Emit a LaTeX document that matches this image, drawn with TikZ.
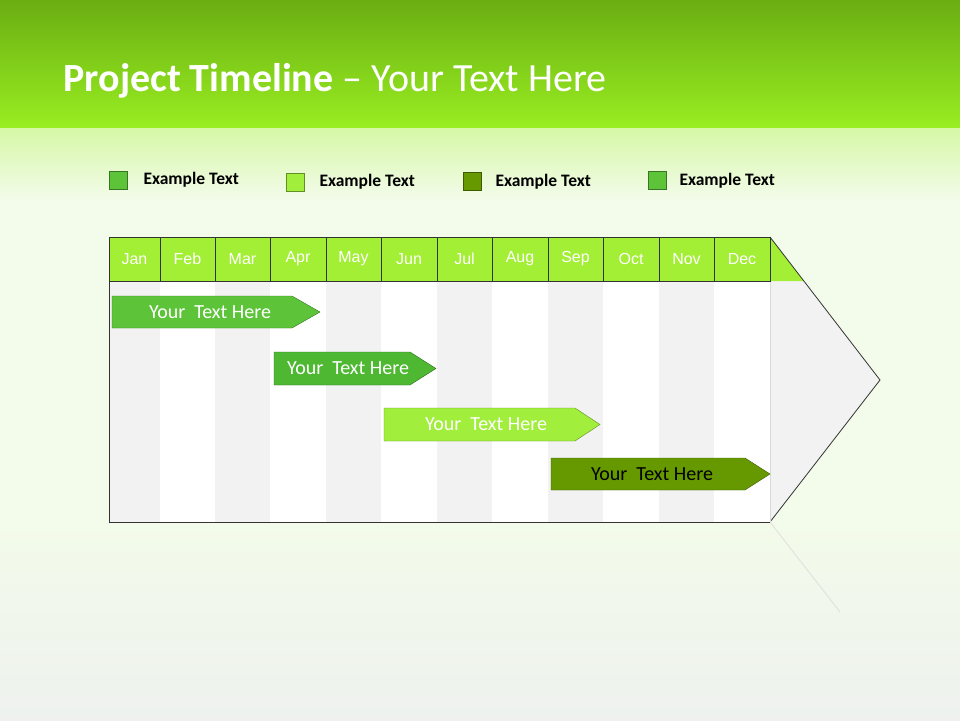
\documentclass[tikz,border=0pt]{standalone}
\usepackage{fontspec}
\setmainfont{Carlito}
\newfontfamily\arialf{Liberation Sans}
\begin{document}
\begin{tikzpicture}[x=1pt,y=-1pt,
  hdr/.style={fill=hgreen,draw=black!80,line width=0.8pt},
  mon/.style={text=white,font=\arialf\fontsize{16}{18}\selectfont},
  leg/.style={font=\bfseries\fontsize{17.5}{20}\selectfont,anchor=west},
  bartext/.style={font=\fontsize{20}{23}\selectfont}]
\definecolor{hgreen}{HTML}{A3EF35}
\definecolor{cA}{HTML}{5DC43A}
\definecolor{cB}{HTML}{A2EE3C}
\definecolor{cC}{HTML}{669900}
\definecolor{cD}{HTML}{4EB833}
\definecolor{top}{HTML}{6AAE12}
\definecolor{mid}{HTML}{99EE22}
\definecolor{bg}{HTML}{F3FBEA}
\useasboundingbox (0,0) rectangle (960,720);
\fill[bg] (0,0) rectangle (960,720);
\shade[top color=top,bottom color=mid] (0,0) rectangle (960,128);
\shade[top color=mid!40!white,bottom color=bg] (0,128) rectangle (960,200);
\shade[top color=bg,bottom color=green!10!gray!12] (0,520) rectangle (960,720);
\node[anchor=west,text=white,font=\fontsize{40}{46}\selectfont] (title) at (60,81) {\textbf{Project Timeline} -- Your Text Here};
% legend
\node[fill=cA,draw=cA!60!black,minimum size=18pt,inner sep=0] (l1) at (118.5,180) {};
\node[leg] (t1) at (140,180) {Example Text};
\node[fill=cB,draw=cB!60!black,minimum size=18pt,inner sep=0] (l2) at (295.5,182) {};
\node[leg] (t2) at (316,182) {Example Text};
\node[fill=cC,draw=cC!60!black,minimum size=18pt,inner sep=0] (l3) at (472,181) {};
\node[leg] (t3) at (492,182) {Example Text};
\node[fill=cA,draw=cA!60!black,minimum size=18pt,inner sep=0] (l4) at (657.5,180) {};
\node[leg] (t4) at (676,181) {Example Text};
% arrow background
\fill[gray!10] (770,237) -- (880,380) -- (770,522) -- cycle;
\fill[hgreen] (770,237) -- (803.8,281) -- (770,281) -- cycle;
\draw[black!80,line width=0.8pt] (770,237) -- (880,380) -- (770,522);
\draw[gray!25,line width=0.8pt] (770,522) -- (840,612);
\foreach \a/\b/\m [count=\i] in {109/160/Jan,160/215/Feb,215/270/Mar,270/326/Apr,326/381/May,381/437/Jun,437/492/Jul,492/548/Aug,548/603/Sep,603/659/Oct,659/714/Nov,714/770/Dec}{
  \pgfmathtruncatemacro{\odd}{mod(\i,2)}
  \ifnum\odd=1 \fill[gray!10] (\a,281) rectangle (\b,522); \else \fill[white] (\a,281) rectangle (\b,522);\fi
  \draw[gray!30,line width=0.8pt] (\b,281) -- (\b,522);
  \draw[hdr] (\a,237) rectangle (\b,281);
  \node[mon] (m\i) at ({(\a+\b)/2},259) {\m};
}
\draw[black!80,line width=0.8pt] (109,237) -- (109,522) -- (770,522);
% bars
\draw[fill=cA,draw=cA!60!black] (112,296) -- (292,296) -- (320,312) -- (292,328) -- (112,328) -- cycle;
\node[bartext,text=white] (b1) at (210,312) {Your\ \ Text Here};
\draw[fill=cD,draw=cD!60!black] (274,352) -- (410,352) -- (436,368.5) -- (410,385) -- (274,385) -- cycle;
\node[bartext,text=white] (b2) at (348,368.5) {Your\ \ Text Here};
\draw[fill=cB,draw=cB!60!black] (384,408) -- (575,408) -- (600,424.5) -- (575,441) -- (384,441) -- cycle;
\node[bartext,text=white] (b3) at (486,424.5) {Your\ \ Text Here};
\draw[fill=cC,draw=cC!60!black] (551,458) -- (745,458) -- (770,474) -- (745,490) -- (551,490) -- cycle;
\node[bartext,text=black] (b4) at (652,474) {Your\ \ Text Here};
\end{tikzpicture}
\end{document}
